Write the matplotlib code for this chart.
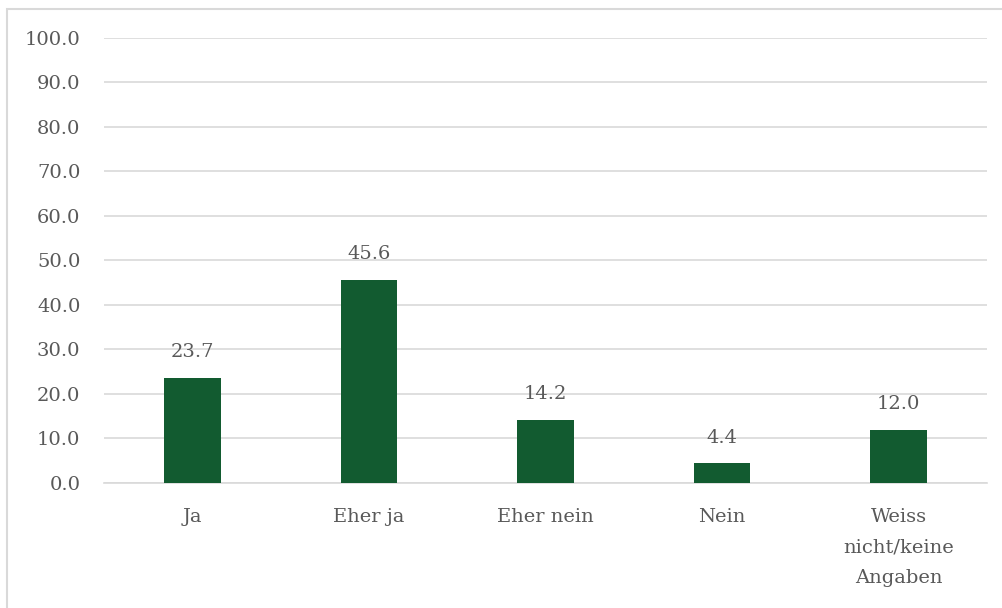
import matplotlib
matplotlib.use("Agg")
import matplotlib.pyplot as plt
from matplotlib.patches import Rectangle

# answer categories and shares (%)
categories = ["Ja", "Eher ja", "Eher nein", "Nein", "Weiss\nnicht/keine\nAngaben"]
values = [23.7, 45.6, 14.2, 4.4, 12.0]
yticks = [0, 10, 20, 30, 40, 50, 60, 70, 80, 90, 100]

bar_color = "#125B30"
grid_color = "#D9D9D9"
text_color = "#595959"

plt.rcParams['font.family'] = ['DejaVu Serif']
fs = 14

fig = plt.figure(figsize=(10.02, 6.08), dpi=100)
ax = fig.add_axes([0.1038, 0.2056, 0.8812, 0.7319])

x = list(range(len(categories)))
bars = ax.bar(x, values, width=0.32, color=bar_color, zorder=3)

for xi, v in zip(x, values):
    ax.annotate(f"{v:.1f}", (xi, v), xytext=(0, 12), textcoords="offset points",
                ha="center", va="bottom", fontsize=fs, color=text_color)

ax.set_xlim(-0.5, len(categories) - 0.5)
ax.set_ylim(0, 100)
ax.set_yticks(yticks)
ax.set_yticklabels([f"{t:.1f}" for t in yticks])
ax.set_xticks(x)
ax.set_xticklabels(categories, linespacing=1.9)
ax.tick_params(axis="y", length=0, pad=17, labelsize=fs, labelcolor=text_color)
ax.tick_params(axis="x", length=0, pad=18, labelsize=fs, labelcolor=text_color)

ax.grid(axis="y", color=grid_color, linewidth=1.2, zorder=0)
for side in ["top", "right", "left"]:
    ax.spines[side].set_visible(False)
ax.spines["bottom"].set_color(grid_color)
ax.spines["bottom"].set_linewidth(1.2)

# outer chart border
fig.patches.append(Rectangle((7 / 1002, -0.05), 1.1, 1 - 9 / 608 + 0.05,
                             transform=fig.transFigure, fill=False,
                             edgecolor=grid_color, linewidth=1.5))

fig.savefig("out.png", dpi=100)
